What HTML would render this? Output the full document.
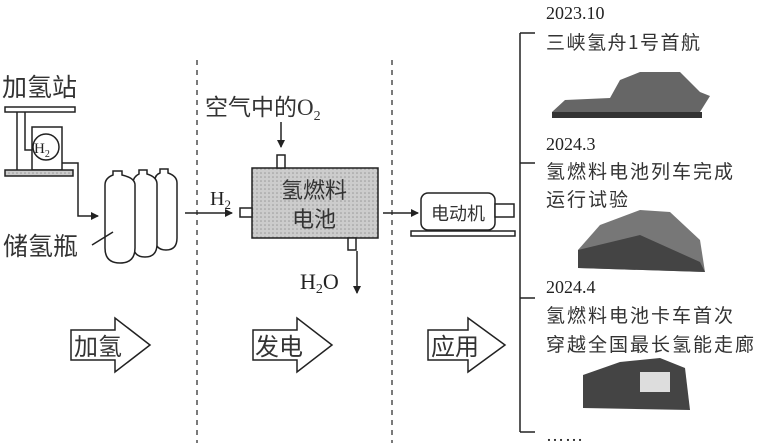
<!DOCTYPE html>
<html><head><meta charset="utf-8"><style>
html,body{margin:0;padding:0;background:#fff;}
svg{display:block;}
text{font-family:"Liberation Serif","Noto Serif CJK SC","Noto Sans CJK SC",serif;fill:#222;}
.c{font-family:"Noto Sans CJK SC","WenQuanYi Zen Hei",sans-serif;fill:#333;}
</style></head><body>
<svg width="759" height="443" viewBox="0 0 759 443" xmlns="http://www.w3.org/2000/svg">
<defs>
<marker id="a" markerWidth="8" markerHeight="8" refX="7" refY="4" orient="auto" markerUnits="userSpaceOnUse"><path d="M0,0 L8,4 L0,8 Z" fill="#222"/></marker>
<pattern id="h" width="4" height="4" patternUnits="userSpaceOnUse"><rect width="4" height="4" fill="#ccc"/><circle cx="1" cy="1" r="0.8" fill="#999"/></pattern>
</defs>
<g stroke="#222" stroke-width="1.5" fill="none">
<rect x="5" y="107" width="70" height="5" fill="#fff"/>
<path d="M17,112 V170 M25,112 V150 H32"/>
<rect x="32" y="127" width="30" height="43" fill="#fff"/>
<circle cx="46" cy="147" r="13" fill="#fff"/>
<rect x="5" y="170" width="68" height="6" fill="url(#h)"/>
<path d="M62,163 H78 V216 H98" marker-end="url(#a)"/>
<path d="M155,180 q0,-5 5,-7 v-4 h8 v4 q9,3 9,10 v55 q0,12 -11,12 q-11,0 -11,-12 z" fill="#fff"/>
<path d="M133,183 q0,-6 6,-9 v-4 h8 v4 q10,3 10,10 v60 q0,13 -12,13 q-12,0 -12,-13 z" fill="#fff"/>
<path d="M105,185 q0,-7 8,-10 v-4 h9 v4 q13,3 13,10 v63 q0,15 -15,15 q-15,0 -15,-15 z" fill="#fff"/>
<path d="M92,245 L113,232"/>
<path d="M197,60 V443 M392,60 V443" stroke-dasharray="5,5" stroke-width="1.2"/>
<path d="M185,213 H232" marker-end="url(#a)"/>
<rect x="252" y="168" width="126" height="70" fill="url(#h)"/>
<rect x="240" y="208" width="12" height="9" fill="#fff"/>
<rect x="277" y="155" width="8" height="13" fill="#fff"/>
<rect x="348" y="238" width="8" height="12" fill="#fff"/>
<path d="M281,122 V147" marker-end="url(#a)"/>
<path d="M357,251 V293" marker-end="url(#a)"/>
<path d="M383,213 H418" marker-end="url(#a)"/>
<rect x="421" y="193" width="74" height="37" rx="7" fill="#fff"/>
<rect x="495" y="204" width="19" height="13" fill="#fff"/>
<rect x="411" y="231" width="104" height="5" fill="#fff"/>
<path d="M520,33 V432 M520,33 H535 M520,163 H535 M520,298 H535 M520,432 H535"/>
<path d="M71,330 H115 V318 L150,345 L115,372 V360 H71 Z" fill="#fff"/>
<path d="M253,330 H297 V318 L332,345 L297,372 V360 H253 Z" fill="#fff"/>
<path d="M428,330 H468 V318 L505,345 L468,372 V360 H428 Z" fill="#fff"/>
</g>
<g fill="#222">
<path d="M552,112 L565,100 L610,98 L620,80 L640,72 L680,72 L700,92 L710,96 L700,112 Z" fill="#666"/>
<rect x="552" y="112" width="150" height="6" fill="#333"/>
<path d="M578,250 L600,225 L640,210 L670,212 L700,240 L705,272 L578,268 Z" fill="#777"/>
<path d="M578,250 L640,235 L700,262 L705,272 L578,268Z" fill="#444"/>
<path d="M583,375 L620,362 L660,358 L685,368 L690,410 L583,408 Z" fill="#444"/>
<rect x="640" y="372" width="30" height="20" fill="#ddd"/>
</g>
<g font-size="24">
<text x="2" y="96" class="c" font-size="25">加氢站</text>
<text x="34" y="153" font-size="15">H<tspan font-size="10" dy="4">2</tspan></text>
<text x="3" y="255" class="c" font-size="25">储氢瓶</text>
<text x="205" y="115" class="c" font-size="23">空气中的<tspan style="font-family:'Liberation Serif',serif">O</tspan><tspan font-size="14" dy="5" style="font-family:'Liberation Serif',serif">2</tspan></text>
<text x="210" y="205" font-size="20">H<tspan font-size="13" dy="4">2</tspan></text>
<text x="314" y="198" class="c" font-size="22" text-anchor="middle">氢燃料</text>
<text x="314" y="227" class="c" font-size="22" text-anchor="middle">电池</text>
<text x="300" y="289" font-size="22">H<tspan font-size="14" dy="4">2</tspan><tspan dy="-4">O</tspan></text>
<text x="458" y="220" class="c" font-size="18" text-anchor="middle">电动机</text>
<text x="74" y="355" class="c" font-size="24">加氢</text>
<text x="255" y="355" class="c" font-size="24">发电</text>
<text x="431" y="355" class="c" font-size="24">应用</text>
<text x="546" y="19" font-size="18">2023.10</text>
<text x="546" y="49" class="c" font-size="19" letter-spacing="1.5">三峡氢舟1号首航</text>
<text x="546" y="150" font-size="18">2024.3</text>
<text x="546" y="178" class="c" font-size="19" letter-spacing="2">氢燃料电池列车完成</text>
<text x="546" y="206" class="c" font-size="19" letter-spacing="2">运行试验</text>
<text x="546" y="293" font-size="18">2024.4</text>
<text x="546" y="322" class="c" font-size="19" letter-spacing="2">氢燃料电池卡车首次</text>
<text x="546" y="351" class="c" font-size="19" letter-spacing="2">穿越全国最长氢能走廊</text>
<text x="546" y="441" font-size="18" letter-spacing="1">……</text>
</g>
</svg>
</body></html>
